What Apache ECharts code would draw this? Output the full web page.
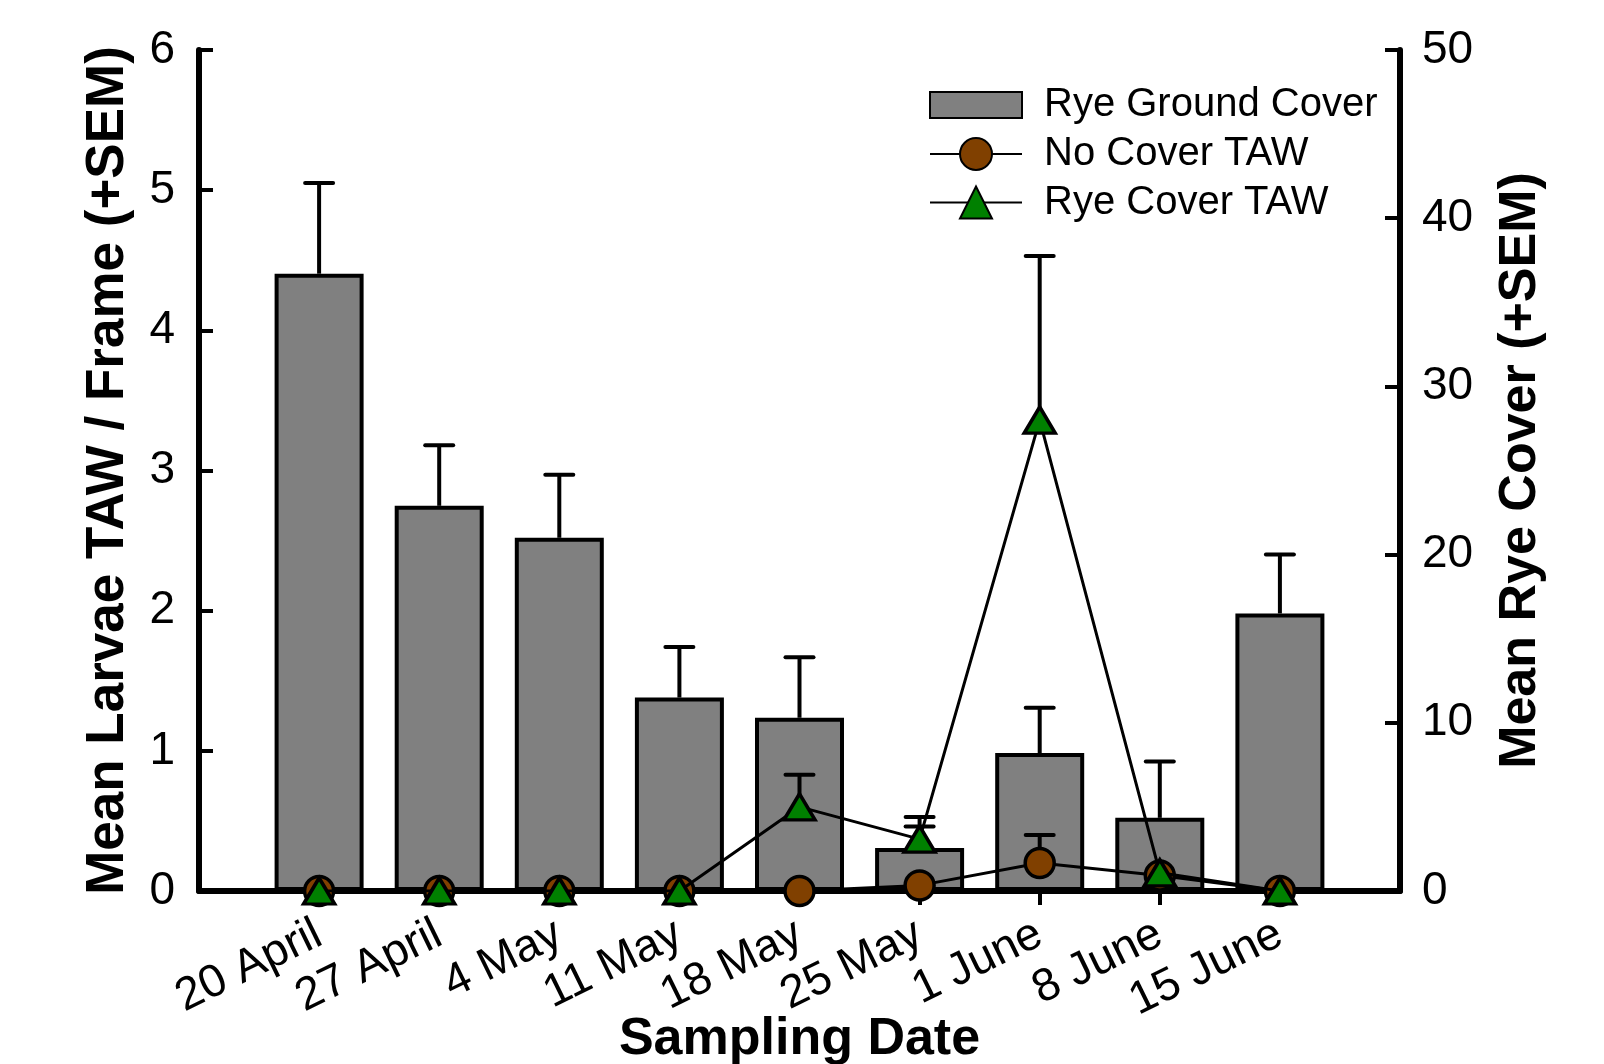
<!DOCTYPE html>
<html>
<head>
<meta charset="utf-8">
<script src="https://cdn.jsdelivr.net/npm/echarts@6/dist/echarts.min.js"></script>
<style>
html,body{margin:0;padding:0;background:#fff;overflow:hidden;}
#chart{width:1604px;height:1064px;}
</style>
</head>
<body>
<div id="chart"></div>
<script>
// ---- data ----
const categories = ['20 April','27 April','4 May','11 May','18 May','25 May','1 June','8 June','15 June'];
const ryeGroundCover    = [36.7, 22.9, 21.0, 11.5, 10.3, 2.55, 8.2, 4.35, 16.5];
const ryeGroundCoverTop = [42.1, 26.5, 24.75, 14.5, 13.9, 4.4, 10.9, 7.7, 20.0];
const noCoverTAW    = [0, 0, 0, 0, 0, 0.04, 0.20, 0.11, 0];
const noCoverTAWTop = [null, null, null, null, null, null, 0.40, null, null];
const ryeCoverTAW    = [0, 0, 0, 0, 0.60, 0.37, 3.36, 0.13, 0];
const ryeCoverTAWTop = [null, null, null, null, 0.83, 0.46, 4.53, null, null];
const leftTicks = [0, 1, 2, 3, 4, 5, 6];
const rightTicks = [0, 10, 20, 30, 40, 50];

// ---- helpers ----
const FONT = 'Liberation Sans, Arial, Helvetica, sans-serif';
const xPos = categories.map((c, i) => i + 1);
const pairs = (vals) => vals.map((v, i) => [xPos[i], v]);
const errPairs = (vals, tops) => vals.map((v, i) => [xPos[i], v, tops[i]]).filter(d => d[2] !== null);

function errRender(params, api) {
  const x = api.value(0), y = api.value(1), e = api.value(2);
  const p0 = api.coord([x, y]);
  const p1 = api.coord([x, e]);
  const half = 14;
  return {
    type: 'group',
    children: [
      { type: 'line', shape: { x1: p0[0], y1: p0[1], x2: p1[0], y2: p1[1] },
        style: { stroke: '#000', lineWidth: 4 } },
      { type: 'line', shape: { x1: p1[0] - half, y1: p1[1], x2: p1[0] + half, y2: p1[1] },
        style: { stroke: '#000', lineWidth: 4, lineCap: 'round' } }
    ]
  };
}

const chart = echarts.init(document.getElementById('chart'), null, { renderer: 'canvas' });
chart.setOption({
  animation: false,
  backgroundColor: '#ffffff',
  textStyle: { fontFamily: FONT },
  grid: { left: 199, right: 204, top: 50, bottom: 173, containLabel: false, outerBoundsMode: 'none' },
  legend: [
    {
      data: [{ name: 'Rye Ground Cover', icon: 'rect' }],
      orient: 'vertical', left: 929, top: 85, padding: 0,
      itemWidth: 92, itemHeight: 26,
      textStyle: { fontSize: 40, color: '#000', fontFamily: FONT, padding: [0, 0, 0, 17], lineHeight: 40 },
      selectedMode: false
    },
    {
      data: ['No Cover TAW', 'Rye Cover TAW'],
      orient: 'vertical', left: 929, top: 134, padding: 0,
      itemWidth: 92, itemHeight: 40, itemGap: 8.5,
      textStyle: { fontSize: 40, color: '#000', fontFamily: FONT, padding: [0, 0, 0, 17], lineHeight: 40 },
      selectedMode: false
    }
  ],
  xAxis: {
    type: 'value', min: 0, max: categories.length + 1, interval: 1,
    name: 'Sampling Date', nameLocation: 'middle', nameGap: 123, nameMoveOverlap: false,
    nameTextStyle: { fontSize: 52, fontWeight: 'bold', color: '#000', fontFamily: FONT },
    axisLine: { show: true, onZero: false, lineStyle: { color: '#000', width: 6 } },
    axisTick: { show: true, inside: false, length: 14, lineStyle: { color: '#000', width: 4 }, customValues: xPos },
    axisLabel: {
      show: true, rotate: 26, margin: 41, fontSize: 46, color: '#000', fontFamily: FONT,
      customValues: xPos, hideOverlap: false,
      formatter: (v) => categories[Math.round(v) - 1] || ''
    },
    splitLine: { show: false },
    z: 3
  },
  yAxis: [
    {
      type: 'value', position: 'left', min: 0, max: 6, interval: 1,
      name: 'Mean Larvae TAW / Frame (+SEM)', nameLocation: 'middle', nameRotate: 90, nameGap: 64, nameMoveOverlap: false,
      nameTextStyle: { fontSize: 53, fontWeight: 'bold', color: '#000', fontFamily: FONT },
      axisLine: { show: true, lineStyle: { color: '#000', width: 6 } },
      axisTick: { show: true, inside: true, length: 14, lineStyle: { color: '#000', width: 4 }, customValues: leftTicks },
      axisLabel: { fontSize: 46, margin: 24, color: '#000', fontFamily: FONT, customValues: leftTicks },
      splitLine: { show: false },
      z: 3
    },
    {
      type: 'value', position: 'right', min: 0, max: 50, interval: 10,
      name: 'Mean Rye Cover (+SEM)', nameLocation: 'middle', nameRotate: 90, nameGap: 95, nameMoveOverlap: false,
      nameTextStyle: { fontSize: 52, fontWeight: 'bold', color: '#000', fontFamily: FONT },
      axisLine: { show: true, lineStyle: { color: '#000', width: 6 } },
      axisTick: { show: true, inside: true, length: 15, lineStyle: { color: '#000', width: 4 }, customValues: rightTicks },
      axisLabel: { fontSize: 46, margin: 22, color: '#000', fontFamily: FONT, customValues: rightTicks },
      splitLine: { show: false },
      z: 3
    }
  ],
  series: [
    {
      name: 'Rye Ground Cover', type: 'bar', xAxisIndex: 0, yAxisIndex: 1,
      data: pairs(ryeGroundCover), barWidth: 89,
      itemStyle: { color: '#808080', borderColor: '#000', borderWidth: 4 },
      z: 2
    },
    {
      name: 'Rye Ground Cover SEM', type: 'custom', xAxisIndex: 0, yAxisIndex: 1,
      data: errPairs(ryeGroundCover, ryeGroundCoverTop), renderItem: errRender, z: 2
    },
    {
      name: 'No Cover TAW SEM', type: 'custom', xAxisIndex: 0, yAxisIndex: 0,
      data: errPairs(noCoverTAW, noCoverTAWTop), renderItem: errRender, z: 4
    },
    {
      name: 'No Cover TAW', type: 'line', xAxisIndex: 0, yAxisIndex: 0,
      data: pairs(noCoverTAW), symbol: 'circle', symbolSize: 29, showSymbol: true,
      itemStyle: { color: '#804000', borderColor: '#000', borderWidth: 3.5 },
      lineStyle: { color: '#000', width: 3 },
      z: 5
    },
    {
      name: 'Rye Cover TAW SEM', type: 'custom', xAxisIndex: 0, yAxisIndex: 0,
      data: errPairs(ryeCoverTAW, ryeCoverTAWTop), renderItem: errRender, z: 6
    },
    {
      name: 'Rye Cover TAW', type: 'line', xAxisIndex: 0, yAxisIndex: 0,
      data: pairs(ryeCoverTAW), symbol: 'triangle', symbolSize: [31, 26], showSymbol: true,
      itemStyle: { color: '#008000', borderColor: '#000', borderWidth: 3.5 },
      lineStyle: { color: '#000', width: 3 },
      z: 7
    }
  ]
});
</script>
</body>
</html>
